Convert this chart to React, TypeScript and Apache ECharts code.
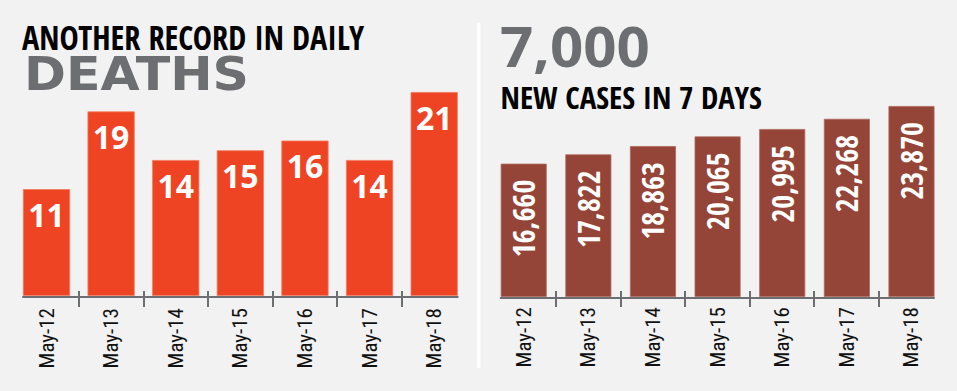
import React, { useEffect, useRef } from 'react';
import * as echarts from 'echarts';

const categories = ['May-12', 'May-13', 'May-14', 'May-15', 'May-16', 'May-17', 'May-18'];
const deaths = [11, 19, 14, 15, 16, 14, 21];
const newCases = [16660, 17822, 18863, 20065, 20995, 22268, 23870];
// tick marks sit on the boundaries between consecutive days
const boundaries = categories.slice(1);

const titleLeft = 'ANOTHER RECORD IN DAILY';
const titleLeftBig = 'DEATHS';
const titleRightBig = '7,000';
const titleRight = 'NEW CASES IN 7 DAYS';

const NARROW = "'Open Sans Condensed', 'Roboto Condensed', 'DejaVu Sans Condensed', sans-serif";
const NARROW_REG = "'Roboto Condensed', 'DejaVu Sans Condensed', sans-serif";
const GRAY = '#6d6e71';
const LEFT_BAR = '#ef4423';
const RIGHT_BAR = '#944537';

export default function App() {
  const ref = useRef<HTMLDivElement>(null);

  useEffect(() => {
    document.body.style.margin = '0';
    const chart = echarts.init(ref.current!, null, { renderer: 'svg' });

    const lineAxis = (gridIndex: number) => ({
      type: 'value', gridIndex, min: 0, max: 1, z: 5,
      axisLine: { show: true, lineStyle: { color: GRAY, width: 2 } },
      axisTick: { show: false }, axisLabel: { show: false }, splitLine: { show: false },
    });
    const tickAxis = (gridIndex: number) => ({
      type: 'category', gridIndex, data: boundaries, boundaryGap: false, z: 5,
      axisLine: { show: false },
      axisTick: { show: true, interval: 0, length: 16, lineStyle: { color: GRAY, width: 2 } },
      axisLabel: { show: false }, splitLine: { show: false },
    });
    const catAxis = (gridIndex: number, margin: number) => ({
      type: 'category', gridIndex, data: categories,
      axisLine: { show: false }, axisTick: { show: false }, splitLine: { show: false },
      axisLabel: { rotate: 90, margin, fontSize: 21, color: '#111', fontFamily: NARROW_REG, fontWeight: 400, interval: 0 },
    });
    const hiddenY = (gridIndex: number, max?: number) => ({
      type: 'value', gridIndex, min: 0, max, show: false, splitLine: { show: false },
    });

    const option: any = {
      animation: false,
      backgroundColor: '#f2f2f2',
      grid: [
        { left: 14.2, top: 92, width: 452.3, height: 204 },
        { left: 23, top: 287, width: 434.7, height: 10 },
        { left: 79, top: 281, width: 322.7, height: 10 },
        { left: 491.4, top: 106, width: 452.4, height: 191 },
        { left: 500.7, top: 287.5, width: 433.3, height: 10 },
        { left: 556, top: 281, width: 322.3, height: 10 },
      ],
      xAxis: [
        catAxis(0, 12), lineAxis(1), tickAxis(2),
        catAxis(3, 10), lineAxis(4), tickAxis(5),
      ],
      yAxis: [
        hiddenY(0, Math.max(...deaths)), hiddenY(1), hiddenY(2),
        hiddenY(3, Math.max(...newCases)), hiddenY(4), hiddenY(5),
      ],
      series: [
        {
          type: 'bar', xAxisIndex: 0, yAxisIndex: 0, data: deaths,
          barCategoryGap: '27%',
          itemStyle: { color: LEFT_BAR, borderColor: '#f37a5c', borderWidth: 0.8 },
          label: {
            show: true, position: 'insideTop', distance: 9, color: '#fff',
            fontFamily: "'Open Sans', sans-serif", fontWeight: 700, fontSize: 32,
          },
        },
        {
          type: 'bar', xAxisIndex: 3, yAxisIndex: 3, data: newCases,
          barCategoryGap: '28.8%',
          itemStyle: { color: RIGHT_BAR, borderColor: '#b0685c', borderWidth: 0.8 },
          label: {
            show: true, position: 'insideTop', distance: 16, rotate: 90,
            align: 'right', verticalAlign: 'middle', color: '#fff',
            fontFamily: NARROW, fontWeight: 600, fontSize: 30,
            formatter: (p: any) => Number(p.value).toLocaleString('en-US'),
          },
        },
      ],
      graphic: [
        { type: 'rect', silent: true, shape: { x: 477, y: 23, width: 3.5, height: 345 }, style: { fill: '#ffffff' } },
        {
          type: 'text', x: 22, y: 37, scaleX: 0.95,
          style: { text: titleLeft, fontFamily: NARROW, fontWeight: 700, fontSize: 34, fill: '#000', align: 'left', verticalAlign: 'middle' },
        },
        {
          type: 'text', x: 24, y: 73.5, scaleX: 1.1,
          style: { text: titleLeftBig, fontFamily: "'DejaVu Sans', sans-serif", fontWeight: 700, fontSize: 46, fill: GRAY, align: 'left', verticalAlign: 'middle' },
        },
        {
          type: 'text', x: 500, y: 45.3, scaleX: 1.04,
          style: { text: titleRightBig, fontFamily: "'Open Sans', sans-serif", fontWeight: 700, fontSize: 56, fill: GRAY, align: 'left', verticalAlign: 'middle' },
        },
        {
          type: 'text', x: 500.5, y: 97,
          style: { text: titleRight, fontFamily: NARROW, fontWeight: 700, fontSize: 31, fill: '#000', align: 'left', verticalAlign: 'middle' },
        },
      ],
    };

    chart.setOption(option);
    return () => chart.dispose();
  }, []);

  return (
    <div
      ref={ref}
      style={{ position: 'absolute', left: 0, top: 0, width: 957, height: 391, background: '#f2f2f2' }}
    />
  );
}
